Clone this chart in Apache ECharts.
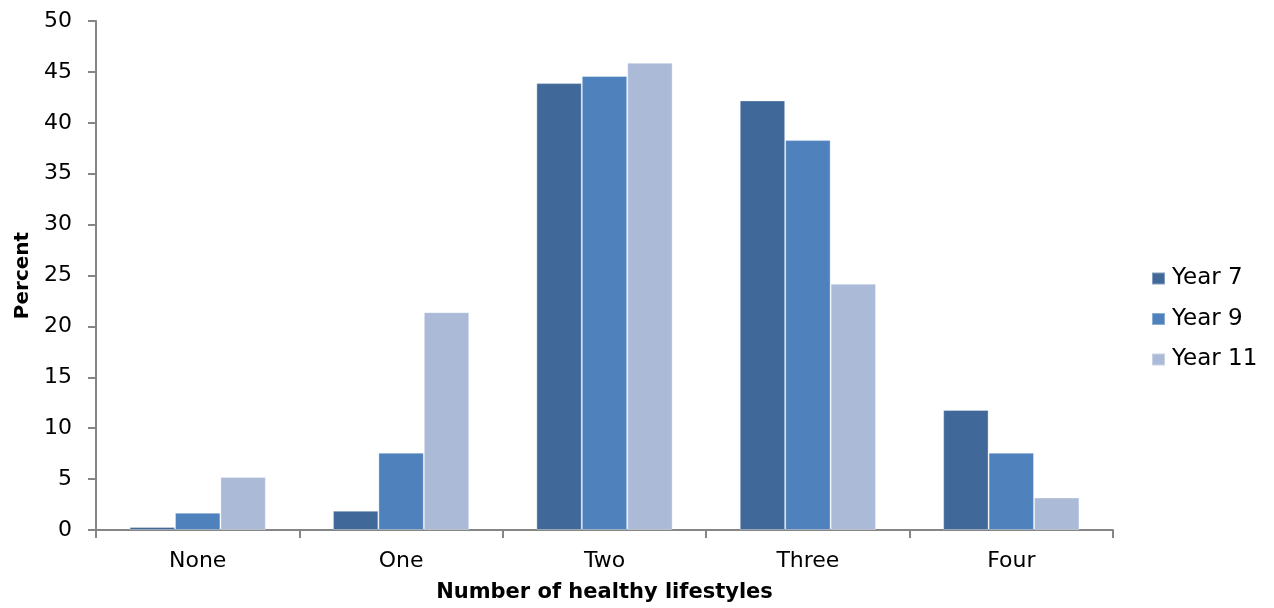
<!DOCTYPE html>
<html>
<head>
<meta charset="utf-8">
<script src="https://cdn.jsdelivr.net/npm/echarts@6/dist/echarts.min.js"></script>
<style>html,body{margin:0;padding:0;background:#fff;overflow:hidden}#c{width:1274px;height:608px}</style>
</head>
<body>
<div id="c"></div>
<script>
const categories = ['None', 'One', 'Two', 'Three', 'Four'];
const year7 = [0.3, 1.9, 43.9, 42.2, 11.8];
const year9 = [1.7, 7.6, 44.6, 38.3, 7.6];
const year11 = [5.2, 21.4, 45.9, 24.2, 3.2];
const seriesNames = ['Year 7', 'Year 9', 'Year 11'];
const colors = ['#40699A', '#4F81BD', '#AABAD7'];
const font = 'DejaVu Sans, Liberation Sans, Arial, sans-serif';

const chart = echarts.init(document.getElementById('c'), null, {renderer: 'canvas', width: 1274, height: 608});
const data = [year7, year9, year11];
chart.setOption({
  animation: false,
  grid: {left: 96, right: 161, top: 21, height: 517, containLabel: false},
  legend: {
    orient: 'vertical', left: 1146, top: 262,
    itemWidth: 13, itemHeight: 12, itemGap: 17.5,
    icon: 'rect',
    textStyle: {fontFamily: font, fontSize: 23, color: '#000', padding: [0, 0, 0, 2]},
    data: seriesNames
  },
  xAxis: {
    type: 'category', data: categories,
    name: 'Number of healthy lifestyles', nameLocation: 'middle', nameGap: 52,
    nameTextStyle: {fontFamily: font, fontSize: 21, fontWeight: 'bold', color: '#000'},
    axisLine: {lineStyle: {color: '#868686', width: 2}},
    axisTick: {show: true, length: 8, lineStyle: {color: '#868686', width: 2}},
    axisLabel: {fontFamily: font, fontSize: 22, color: '#000', margin: 20}
  },
  yAxis: {
    type: 'value', min: 0, max: 50, interval: 5,
    name: 'Percent', nameLocation: 'middle', nameGap: 61,
    nameTextStyle: {fontFamily: font, fontSize: 20, fontWeight: 'bold', color: '#000'},
    axisLine: {show: true, lineStyle: {color: '#868686', width: 2}},
    axisTick: {show: true, length: 8, lineStyle: {color: '#868686', width: 2}},
    axisLabel: {fontFamily: font, fontSize: 22, color: '#000', margin: 24},
    splitLine: {show: false}
  },
  series: seriesNames.map((n, i) => ({
    name: n, type: 'bar', data: data[i],
    barGap: '0%', barCategoryGap: '33%',
    itemStyle: {color: colors[i], borderColor: 'rgba(255,255,255,0.35)', borderWidth: 1}
  }))
});
</script>
</body>
</html>
